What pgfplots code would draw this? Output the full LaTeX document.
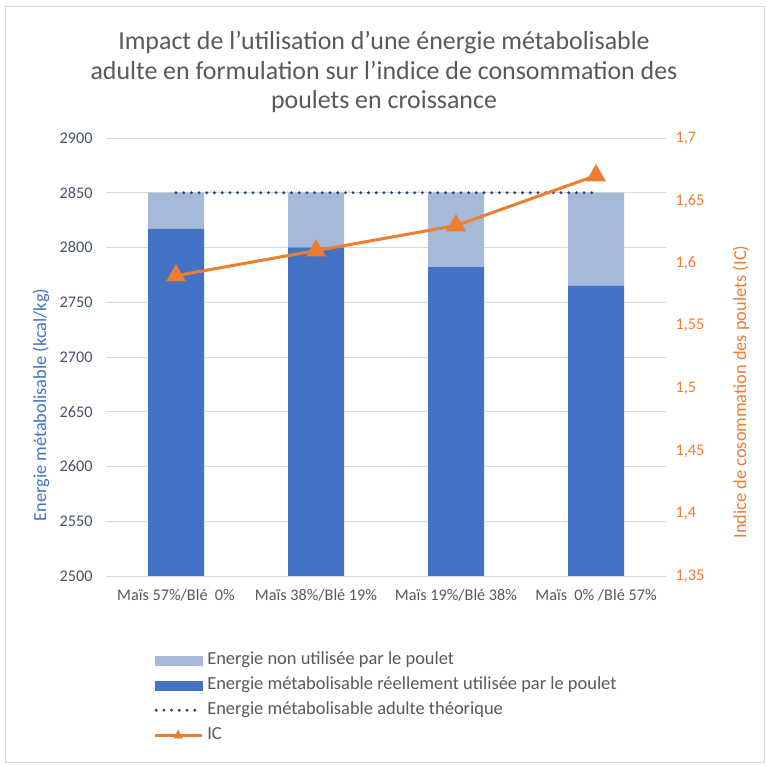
\documentclass[border=0pt]{standalone}
\usepackage{pgfplots}
\pgfplotsset{compat=1.18}
\usepackage{fontspec}
\setmainfont{Carlito}
\definecolor{cblue}{HTML}{4472C4}
\definecolor{cdark}{HTML}{264478}
\definecolor{corange}{HTML}{ED7D31}
\definecolor{cgray}{HTML}{595959}
\definecolor{cgrid}{HTML}{D9D9D9}
\definecolor{ctick}{HTML}{44546A}
\definecolor{cpat}{HTML}{A7B9D9}
\pgfplotsset{
  base/.style={
    at={(106bp,190bp)}, anchor=south west,
    scale only axis, width=560bp, height=438bp,
    xmin=-0.5, xmax=3.5,
    axis line style={draw=none},
    major tick style={draw=none},
    /pgf/number format/assume math mode=true,
  }
}
\begin{document}
\begin{tikzpicture}
\useasboundingbox (0,0) rectangle (767bp,766bp);
\fill[white] (0,0) rectangle (767bp,766bp);
\draw[color=cgrid, line width=0.8bp] (5bp,4bp) rectangle (764bp,760bp);
\node[align=center, text=cgray, font=\fontsize{26}{30}\selectfont] at (384bp,694bp)
 {Impact de l'utilisation d'une énergie métabolisable\\adulte en formulation sur l'indice de consommation des\\poulets en croissance};
% bars
\begin{axis}[base,
  ymin=2500, ymax=2900,
  ytick={2500,2550,...,2900},
  xtick={0,1,2,3},
  xticklabels={Maïs 57\%/Blé\ \ 0\%, Maïs 38\%/Blé 19\%, Maïs 19\%/Blé 38\%, Maïs\ \ 0\% /Blé 57\%},
  ymajorgrids, grid style={cgrid, line width=0.8bp},
  /pgf/number format/1000 sep={},
  yticklabel style={text=ctick, font=\fontsize{16.3}{18}\selectfont, xshift=-10bp},
  xticklabel style={text=cgray, font=\fontsize{16.3}{18}\selectfont, yshift=-10bp},
  every axis y label/.style={at={(-65bp,171bp)}, rotate=90, anchor=center,
     text=cblue, font=\fontsize{18.4}{20}\selectfont},
  ylabel={Energie métabolisable (kcal/kg)},
  ybar stacked, bar width=56bp,
  legend style={at={(47bp,-74bp)}, anchor=north west, draw=none, fill=none,
    font=\fontsize{18.5}{20}\selectfont, text=cgray, row sep=5bp,
    inner sep=0pt,
    nodes={inner sep=1bp, text height=13.5bp, text depth=4.5bp},
    /tikz/every odd column/.append style={column sep=3bp}},
  legend cell align=left,
]
\addplot[fill=cblue, draw=none, forget plot] coordinates {(0,2817) (1,2800) (2,2782) (3,2765)};
\addplot[fill=cpat, draw=none, forget plot] coordinates {(0,33) (1,50) (2,68) (3,85)};
\addlegendimage{legend image code/.code={\fill[cpat] (0bp,-4.5bp) rectangle (47bp,4.5bp);}}
\addlegendentry{Energie non utilisée par le poulet}
\addlegendimage{legend image code/.code={\fill[cblue] (0bp,-4.5bp) rectangle (47bp,4.5bp);}}
\addlegendentry{Energie métabolisable réellement utilisée par le poulet}
\addlegendimage{legend image code/.code={\draw[cdark, line width=3.2bp, line cap=round, dash pattern=on 0pt off 7.7bp] (1.5bp,0bp) -- (47bp,0bp);}}
\addlegendentry{Energie métabolisable adulte théorique}
\addlegendimage{legend image code/.code={\draw[corange, line width=3bp] (0bp,0bp) -- (47bp,0bp); \fill[corange] (19bp,-3bp) -- (28bp,-3bp) -- (23.5bp,5bp) -- cycle;}}
\addlegendentry{IC}
\end{axis}
% theoretical energy line
\begin{axis}[base, ymin=2500, ymax=2900, hide axis]
\addplot[cdark, line width=3.2bp, line cap=round, dash pattern=on 0pt off 7.7bp] coordinates {(0,2850) (1,2850) (2,2850) (3,2850)};
\end{axis}
% IC
\begin{axis}[base,
  ymin=1.35, ymax=1.7,
  ytick={1.35,1.4,...,1.7},
  axis y line*=right,
  axis x line=none,
  xtick=\empty,
  /pgf/number format/use comma,
  /pgf/number format/fixed,
  /pgf/number format/precision=2,
  yticklabel style={text=corange, font=\fontsize{16.3}{18}\selectfont, xshift=6bp},
  every axis y label/.style={at={(635bp,184bp)}, rotate=90, anchor=center,
     text=corange, font=\fontsize{18.4}{20}\selectfont},
  ylabel={Indice de cosommation des poulets (IC)},
]
\addplot[corange, line width=3bp, mark=triangle*, mark size=8.5bp, mark options={solid}] coordinates {(0,1.59) (1,1.61) (2,1.63) (3,1.67)};
\end{axis}
\end{tikzpicture}
\end{document}
